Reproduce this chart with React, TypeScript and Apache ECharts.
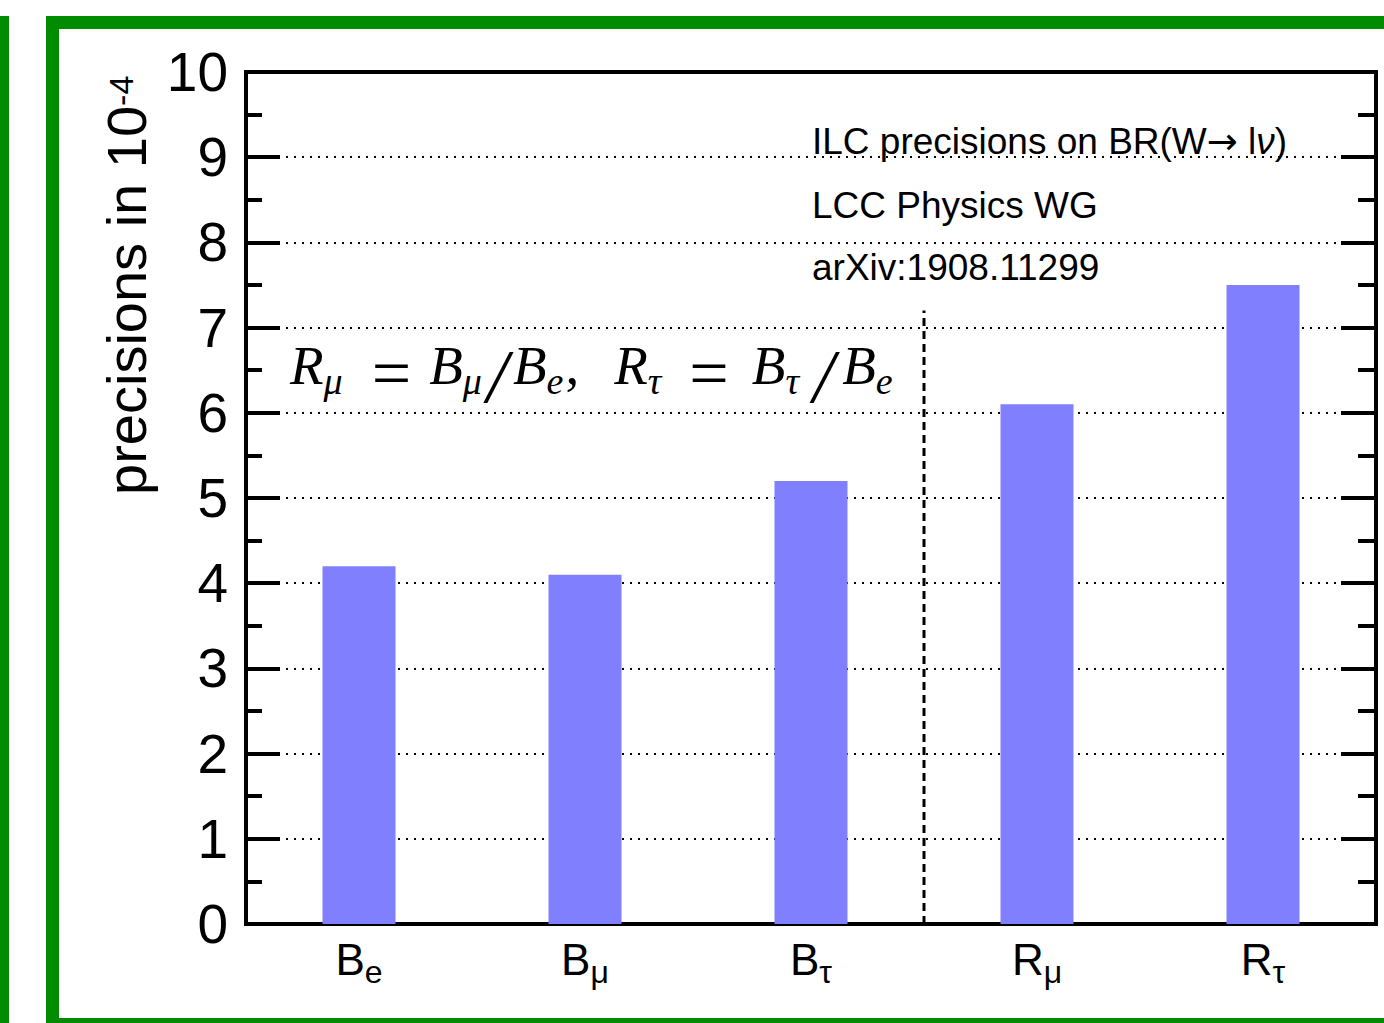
import React, { useEffect, useRef } from 'react';
import * as echarts from 'echarts';

// ---- data ----
const categories = ['B_e', 'B_μ', 'B_τ', 'R_μ', 'R_τ'];
const precisions = [4.2, 4.1, 5.2, 6.1, 7.5];
const yMin = 0;
const yMax = 10;
const yInterval = 1;
// separator between B and R groups, on a hidden value x axis (0..5 = category span)
const separatorX = [3, 3];
const separatorY = [0, 7.2];
const annotationLines = [
  '{a|ILC precisions on BR(W}{ar|\u2192}{a| l}{nu|\u03bd}{a|)}',
  '{a|LCC Physics WG}',
  '{a|arXiv:1908.11299}',
];
const yTitleMain = 'precisions in 10';
const yTitleSup = '-4';

const FONT = '"Liberation Sans", Arial, Helvetica, sans-serif';
const SERIF = '"Liberation Serif", "Times New Roman", serif';
const GREEN = '#008c00';
const BAR = '#8080ff';
const INK = '#111';

export default function App() {
  const ref = useRef<HTMLDivElement>(null);
  useEffect(() => {
    if (!ref.current) return;
    const chart = echarts.init(ref.current, undefined, { renderer: 'svg' });
    const tickStyle = { color: '#000', width: 4 };
    const f = (size: number, italic: boolean, padding: number[]) => ({
      fontFamily: SERIF, fontStyle: italic ? 'italic' : 'normal', fontSize: size, color: INK,
      verticalAlign: 'top', padding,
    });
    const formulaRich = {
      it: f(55, true, [0, 0, 0, 0]),
      sub: f(38, true, [24, 0, 0, 0]),
      eqA: f(70, false, [0, 18, 0, 29]),
      eqB: f(70, false, [0, 23, 0, 28]),
      slA: f(76, true, [0, 5, 0, 5]),
      slB: f(76, true, [0, 8, 0, 14]),
      cm: f(55, false, [0, 35, 0, 2]),
    };
    const annRich = {
      a: { fontSize: 37, fontFamily: FONT, color: '#000' },
      ar: { fontSize: 37, fontFamily: '"DejaVu Sans", sans-serif', color: '#000' },
      nu: { fontSize: 37, fontFamily: FONT, fontStyle: 'italic', color: '#000' },
    };
    const option: any = {
      animation: false,
      grid: {
        left: 246, right: 8, top: 72, bottom: 99,
        show: true, borderColor: '#000', borderWidth: 4, backgroundColor: 'transparent',
      },
      xAxis: [
        {
          type: 'category',
          data: categories,
          axisLine: { show: false },
          axisTick: { show: false },
          splitLine: { show: false },
          axisLabel: {
            interval: 0,
            margin: 13,
            formatter: (v: string) => {
              const [m, s] = v.split('_');
              return `{m|${m}}{s|${s}}`;
            },
            rich: {
              m: { fontSize: 44, fontFamily: FONT, color: '#000', verticalAlign: 'top' },
              s: { fontSize: 32, fontFamily: FONT, color: '#000', verticalAlign: 'top', padding: [19, 0, 0, 0] },
            },
          },
        },
        { type: 'value', min: 0, max: categories.length, show: false },
      ],
      yAxis: [
        {
          type: 'value', min: yMin, max: yMax, interval: yInterval, position: 'left',
          axisLine: { show: false },
          axisTick: { inside: true, length: 34, lineStyle: tickStyle },
          minorTick: { show: true, splitNumber: 2, length: 16, lineStyle: tickStyle },
          splitLine: { show: true, lineStyle: { color: '#000', width: 2, type: [2, 6] } },
          axisLabel: { fontSize: 55, color: '#000', fontFamily: FONT, margin: 18 },
        },
        {
          type: 'value', min: yMin, max: yMax, interval: yInterval, position: 'right',
          axisLine: { show: false },
          axisTick: { inside: true, length: 35, lineStyle: tickStyle },
          minorTick: { show: true, splitNumber: 2, length: 18, lineStyle: tickStyle },
          splitLine: { show: false },
          axisLabel: { show: false },
        },
      ],
      series: [
        {
          type: 'bar', data: precisions, barWidth: 73, xAxisIndex: 0, yAxisIndex: 0,
          itemStyle: { color: BAR }, z: 3,
        },
        {
          type: 'line', xAxisIndex: 1, yAxisIndex: 0,
          data: separatorX.map((x, i) => [x, separatorY[i]]),
          symbol: 'none', lineStyle: { color: '#000', width: 3, type: [8, 5] }, z: 4,
        },
      ],
      graphic: [
        { type: 'rect', silent: true, z: -10, shape: { x: 0, y: 16, width: 9, height: 1010 }, style: { fill: GREEN } },
        { type: 'rect', silent: true, z: -10, shape: { x: 46, y: 16, width: 1400, height: 1010 }, style: { fill: GREEN } },
        { type: 'rect', silent: true, z: -9, shape: { x: 59, y: 29, width: 1400, height: 989 }, style: { fill: '#fff' } },
        {
          type: 'text', x: 126, y: 495, rotation: Math.PI / 2,
          style: {
            text: `{m|${yTitleMain}}{s|${yTitleSup}}`,
            align: 'left', verticalAlign: 'middle',
            rich: {
              m: { fontSize: 56, fontFamily: FONT, color: '#000', verticalAlign: 'top' },
              s: { fontSize: 34, fontFamily: FONT, color: '#000', verticalAlign: 'top', padding: [6, 0, 0, 0] },
            },
          },
        },
        {
          type: 'text', x: 290, y: 338,
          style: {
            text: '{it|R}{sub|μ}{eqA|=}{it|B}{sub|μ}{slA|/}{it|B}{sub|e}{cm|,}{it|R}{sub|τ}{eqB|=}{it|B}{sub|τ}{slB|/}{it|B}{sub|e}',
            align: 'left', verticalAlign: 'top',
            rich: formulaRich,
          },
        },
        ...annotationLines.map((t, i) => ({
          type: 'text', x: 812, y: [141, 205, 267][i],
          style: { text: t, rich: annRich, align: 'left', verticalAlign: 'middle' },
        })),
      ],
    };
    chart.setOption(option);
    return () => chart.dispose();
  }, []);
  return <div ref={ref} style={{ position: 'absolute', left: 0, top: 0, width: 1384, height: 1023 }} />;
}
